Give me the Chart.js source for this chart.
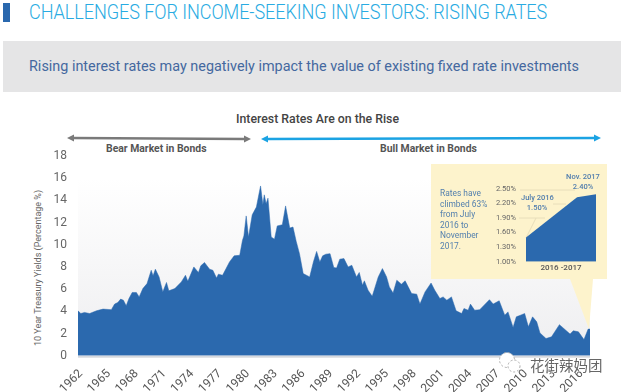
<!DOCTYPE html>
<html>
<head>
<meta charset="utf-8">
<script src="https://cdn.jsdelivr.net/npm/chart.js@4"></script>
<style>
  html, body { margin: 0; padding: 0; background: #fff; }
  body { width: 624px; height: 392px; position: relative; overflow: hidden; font-family: Roboto, sans-serif; }
  .abs { position: absolute; white-space: nowrap; }
  #mainChart { position: absolute; left: 0; top: 0; }
  #insetChart { position: absolute; left: 480px; top: 170px; }
  svg { position: absolute; left: 0; top: 0; }
</style>
</head>
<body>
<div class="abs" style="left:3px;top:3px;width:7px;height:19px;background:#2a68ae"></div>
<div class="abs" style="left:29px;top:0px;font-size:19.5px;line-height:26px;font-weight:300;color:#29abe2;letter-spacing:-0.1px;transform-origin:0 0;transform:scaleX(0.929)">CHALLENGES FOR INCOME-SEEKING INVESTORS: RISING RATES</div>
<div class="abs" style="left:3px;top:41px;width:618px;height:51px;background:#e5e5e6"></div>
<div class="abs" style="left:29px;top:56px;font-size:15px;line-height:20px;color:#44689f;transform-origin:0 0;transform:scaleX(0.96)">Rising interest rates may negatively impact the value of existing fixed rate investments</div>
<div class="abs" style="left:236px;top:112px;font-size:12.3px;line-height:15px;font-weight:500;color:#444">Interest Rates Are on the Rise</div>
<div class="abs" style="left:106px;top:142px;font-size:10.4px;line-height:13px;font-weight:700;color:#555">Bear Market in Bonds</div>
<div class="abs" style="left:380px;top:142px;font-size:10.4px;line-height:13px;font-weight:700;color:#555">Bull Market in Bonds</div>
<div class="abs" style="left:38px;top:267.5px;font-size:9px;line-height:11px;color:#666;transform:translate(-50%,-50%) rotate(-90deg)">10 Year Treasury Yields (Percentage %)</div>

<canvas id="mainChart" width="624" height="392"></canvas>

<svg width="624" height="392">
  <polygon points="570,279 593,279 589,329" fill="#fdf3cc"/>
  <rect x="431" y="164" width="176" height="115" fill="#fdf3cc"/>
  <line x1="72" y1="138" x2="245" y2="139" stroke="#7a7a7a" stroke-width="2.5"/>
  <polygon points="67,138 74,134.5 74,141.5" fill="#7a7a7a"/>
  <polygon points="251,139 244,135.5 244,142.5" fill="#7a7a7a"/>
  <line x1="266" y1="139" x2="596" y2="138" stroke="#1ba3e3" stroke-width="2.5"/>
  <polygon points="261,139 268,135.5 268,142.5" fill="#1ba3e3"/>
  <polygon points="601,138 594,134.5 594,141.5" fill="#1ba3e3"/>
  <g stroke="#e8deba" stroke-width="1" fill="none">
    <line x1="520" y1="190" x2="575" y2="190"/>
    <line x1="553" y1="204" x2="566" y2="204"/>
    <line x1="519" y1="218" x2="545" y2="218"/>
    <line x1="526" y1="238" x2="536" y2="218"/>
  </g>
</svg>

<canvas id="insetChart" width="124" height="103"></canvas>

<div class="abs" style="left:440px;top:188px;font-size:8.4px;line-height:10.5px;color:#5480ae">Rates have<br>climbed 63%<br>from July<br>2016 to<br>November<br>2017.</div>
<div class="abs" style="left:521px;top:193px;width:32px;text-align:center;font-size:7.5px;line-height:10px;font-weight:500;color:#4f7cad">July 2016<br>1.50%</div>
<div class="abs" style="left:565px;top:172px;width:36px;text-align:center;font-size:7.5px;line-height:10px;font-weight:500;color:#4f7cad">Nov. 2017<br>2.40%</div>

<svg width="624" height="392">
  <circle cx="507" cy="360" r="7.5" fill="#fff" stroke="#aaa" stroke-width="1" stroke-dasharray="2 2"/>
  <circle cx="514" cy="366" r="6" fill="#fff" stroke="#aaa" stroke-width="1" stroke-dasharray="2 2"/>
</svg>
<div class="abs" style="left:530px;top:355px;font-family:'Noto Sans CJK SC';font-size:14.5px;line-height:20px;color:#666;text-shadow:0 0 2px #fff,0 0 2px #fff">花街辣妈团</div>

<script>
// 10 year treasury yield
const years = [1962, 1962.3, 1962.7, 1963.25, 1964, 1964.7, 1965.6, 1965.95, 1966.3, 1966.6, 1966.9, 1967.2, 1967.5, 1967.85,
  1968.3, 1968.6, 1969, 1969.45, 1969.9, 1970.1, 1970.35, 1970.75, 1971.15, 1971.55, 1971.8, 1972.45, 1973.15, 1973.6, 1973.85,
  1974.5, 1975, 1975.25, 1975.65, 1976.2, 1976.55, 1976.95, 1977.15, 1977.6, 1978.35, 1978.85, 1979.45, 1979.75, 1979.9,
  1980.15, 1980.4, 1980.8, 1981.25, 1981.7, 1981.95, 1982.1, 1982.3, 1982.5, 1982.85, 1983.2, 1983.5, 1984.05, 1984.4, 1984.85,
  1985.2, 1985.55, 1985.9, 1986.3, 1987, 1987.4, 1987.75, 1988.1, 1988.4, 1988.75, 1989.2, 1989.6, 1989.9, 1990.25, 1990.7,
  1991.15, 1991.55, 1992.05, 1992.35, 1992.7, 1992.9, 1993.3, 1993.75, 1994.4, 1994.85, 1995.3, 1995.6, 1996, 1996.4, 1996.9,
  1997.3, 1998, 1998.55, 1998.9, 1999.45, 2000.1, 2000.5, 2001.05, 2001.4, 2001.8, 2002.3, 2002.8, 2003.4, 2003.65, 2004.1,
  2004.35, 2004.8, 2005.35, 2006.4, 2006.8, 2007.45, 2008.05, 2008.4, 2008.95, 2009.3, 2009.75, 2010.2, 2010.6, 2011.05, 2011.5,
  2011.85, 2012.5, 2013.1, 2013.95, 2015.1, 2015.45, 2016, 2016.6, 2017.05, 2017.25];
const yields = [4.05, 3.8, 3.9, 3.8, 4.05, 4.2, 4.15, 4.65, 4.8, 5.1, 5, 4.5, 5.15, 5.7,
  5.7, 5.3, 6.05, 6.5, 7.7, 7.2, 7.8, 7.1, 5.75, 6.6, 5.85, 6.05, 6.65, 7.25, 6.7,
  8, 7.5, 8.1, 8.4, 7.8, 7.7, 7, 7.35, 7.25, 8.45, 9, 9.05, 10.4, 10.8,
  12.6, 10.7, 12.7, 13.4, 15.3, 13.6, 14.5, 13.7, 14.2, 10.7, 10.5, 11.7, 11.8, 13.5, 11.5,
  11.6, 10.3, 9.2, 7.4, 7.1, 8.45, 9.4, 8.45, 9, 9.15, 9.2, 7.95, 7.9, 8.7, 8.75,
  8, 8.15, 7.1, 7.5, 6.35, 6.75, 5.9, 5.35, 7.1, 7.85, 7.1, 6.2, 5.65, 6.8, 6.45,
  6.75, 5.6, 5.55, 4.65, 5.75, 6.55, 5.9, 5.15, 5.3, 5, 5.3, 4.05, 3.8, 4.25, 4.1,
  4.65, 4.1, 4.15, 5.05, 4.65, 4.95, 3.65, 3.95, 2.55, 3.5, 3.65, 3.8, 2.6, 3.5, 3.05,
  2.05, 1.55, 1.7, 2.8, 1.95, 2.25, 2.15, 1.45, 2.4, 2.4];
const yearTicks = [1962, 1965, 1968, 1971, 1974, 1977, 1980, 1983, 1986, 1989, 1992, 1995, 1998, 2001, 2004, 2007, 2010, 2013, 2016];

const insetDates = [2016.5, 2017.47, 2017.83];
const insetRates = [1.5, 2.33, 2.39];
const insetTicks = [1, 1.3, 1.6, 1.9, 2.2, 2.5];

const blue = "#2b69ae";

// grey fade behind the area plus the thin line under it
const plotBackground = {
  id: "plotBackground",
  beforeDatasetsDraw(chart) {
    const { ctx, chartArea: a } = chart;
    const y0 = chart.scales.y.getPixelForValue(16);
    const grad = ctx.createLinearGradient(0, y0, 0, a.bottom);
    grad.addColorStop(0, "#ffffff");
    grad.addColorStop(1, "#eeeef0");
    ctx.fillStyle = grad;
    ctx.fillRect(a.left, y0, a.right - a.left, a.bottom - y0);
    ctx.fillStyle = "#d5d8dd";
    ctx.fillRect(a.left, a.bottom, a.right - a.left, 2);
  },
};

new Chart(document.getElementById("mainChart"), {
  type: "line",
  plugins: [plotBackground],
  data: {
    datasets: [
      {
        data: years.map((y, i) => ({ x: y, y: yields[i] })),
        fill: "origin",
        backgroundColor: blue,
        borderColor: blue,
        borderWidth: 0.5,
        pointRadius: 0,
        tension: 0,
      },
    ],
  },
  options: {
    responsive: false,
    animation: false,
    layout: { padding: { left: 0, right: 34, top: 156, bottom: 0 } },
    plugins: { legend: { display: false }, tooltip: { enabled: false } },
    scales: {
      x: {
        type: "linear",
        min: 1962,
        max: 2017.25,
        afterBuildTicks: (axis) => {
          axis.ticks = yearTicks.map((v) => ({ value: v }));
        },
        afterFit: (axis) => {
          axis.height = 36.3;
        },
        grid: { display: false },
        border: { display: false },
        ticks: {
          callback: (v) => String(v),
          color: "#555",
          font: { family: "Roboto", size: 12 },
          minRotation: 45,
          maxRotation: 45,
          padding: 3,
          labelOffset: 3,
        },
      },
      y: {
        min: 0,
        max: 18,
        afterFit: (axis) => {
          axis.width = 78;
        },
        grid: { display: false },
        border: { display: false },
        ticks: {
          stepSize: 2,
          color: "#666",
          font: { family: "Roboto", size: 12 },
          padding: 3,
        },
      },
    },
  },
});

new Chart(document.getElementById("insetChart"), {
  type: "line",
  data: {
    datasets: [
      {
        data: insetDates.map((d, i) => ({ x: d, y: insetRates[i] })),
        fill: "origin",
        backgroundColor: blue,
        borderColor: blue,
        borderWidth: 0,
        pointRadius: 0,
        tension: 0,
      },
    ],
  },
  options: {
    responsive: false,
    animation: false,
    layout: { padding: { left: 0, right: 8, top: 19, bottom: 0 } },
    plugins: { legend: { display: false }, tooltip: { enabled: false } },
    scales: {
      x: {
        type: "linear",
        min: 2016.5,
        max: 2017.83,
        afterFit: (axis) => {
          axis.height = 11.3;
        },
        grid: { display: false },
        border: { display: false },
        ticks: { display: false },
        title: {
          display: true,
          text: "2016 -2017",
          color: "#555",
          font: { family: "Roboto", size: 8, weight: "500" },
          padding: 0,
        },
      },
      y: {
        min: 1,
        max: 2.5,
        afterBuildTicks: (axis) => {
          axis.ticks = insetTicks.map((v) => ({ value: v }));
        },
        afterFit: (axis) => {
          axis.width = 46;
        },
        grid: { display: false },
        border: { display: false },
        ticks: {
          callback: (v) => v.toFixed(2) + "%",
          color: "#666",
          font: { family: "Roboto", size: 7.5 },
          padding: 2,
        },
      },
    },
  },
});
</script>
</body>
</html>
